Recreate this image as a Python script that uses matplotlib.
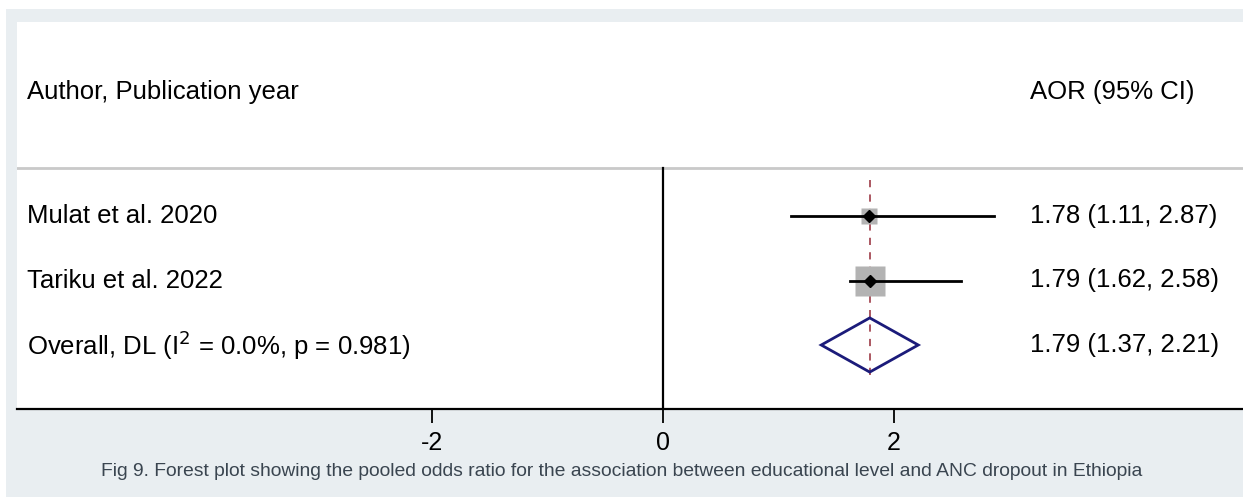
import matplotlib
matplotlib.use("Agg")
import matplotlib.pyplot as plt
from matplotlib.patches import Rectangle, Polygon

plt.rcParams.update({"font.family": ["Liberation Sans", "DejaVu Sans"]})

# study-level estimates (AOR, 95% CI) and weights
studies = ["Mulat et al. 2020", "Tariku et al. 2022"]
aor = [1.78, 1.79]
ci_lo = [1.11, 1.62]
ci_hi = [2.87, 2.58]
weights = [19.5, 80.5]

# pooled DerSimonian-Laird estimate
pooled_label = r"Overall, DL (I$^{2}$ = 0.0%, p = 0.981)"
pooled = 1.79
pooled_lo = 1.37
pooled_hi = 2.21

xticks = [-2, 0, 2]
caption = ("Fig 9. Forest plot showing the pooled odds ratio for the association "
           "between educational level and ANC dropout in Ethiopia")

W, H = 1243, 497
fig = plt.figure(figsize=(W / 100, H / 100), dpi=100, facecolor="white")
GREY = "#e9eef1"
fig.patches.append(Rectangle((6 / W, 0), 1, 1 - 9 / H, transform=fig.transFigure,
                             facecolor=GREY, edgecolor="none", zorder=-10))

# axes = white panel (pixel box 17..1243 x 22..409)
px_l, px_r, px_t, px_b = 17, 1243, 22, 409
ax = fig.add_axes([px_l / W, 1 - px_b / H, (px_r - px_l) / W, (px_b - px_t) / H])
ax.set_facecolor("white")
x0_px, unit = 663, 115.5
ax.set_xlim((px_l - x0_px) / unit, (px_r - x0_px) / unit)
row0_px, row_h = 216, 64.5
ax.set_ylim(1 + (px_b - row0_px) / row_h, 1 + (px_t - row0_px) / row_h)

def ypix(p):
    return 1 + (p - row0_px) / row_h

for s in ("top", "right", "left"):
    ax.spines[s].set_visible(False)
ax.spines["bottom"].set_linewidth(1.6)
ax.set_yticks([])
ax.set_xticks(xticks)
ax.set_xticklabels([str(t) for t in xticks], fontsize=18)
ax.tick_params(axis="x", length=10, width=1.3, pad=6)

fs = 18.5
tx = ax.get_xlim()[0] + 10 / unit
rx = (1030 - x0_px) / unit
ax.text(tx, ypix(92), "Author, Publication year", fontsize=fs, va="center")
ax.text(rx, ypix(92), "AOR (95% CI)", fontsize=fs, va="center")

# header separator and null line
ax.axhline(ypix(168), color="#c9c9c9", lw=2)
ax.plot([0, 0], [ypix(168), ax.get_ylim()[0]], color="black", lw=1.6)

# pooled reference line
ax.plot([pooled, pooled], [ypix(180), ypix(378)], color="#a54a55", lw=1.3,
        ls=(0, (4, 4)), zorder=1)

rows = list(range(1, len(studies) + 1))
for r, name, e, lo, hi, w in zip(rows, studies, aor, ci_lo, ci_hi, weights):
    ax.text(tx, r, name, fontsize=fs, va="center")
    ax.text(rx, r, f"{e:.2f} ({lo:.2f}, {hi:.2f})", fontsize=fs, va="center")
    ax.plot([lo, hi], [r, r], color="black", lw=2, zorder=3)
    ax.plot(e, r, marker="s", ms=2.45 * w ** 0.5, color="#b3b3b3", mec="none", zorder=2)
    ax.plot(e, r, marker="D", ms=6, color="black", zorder=4)

pr = len(studies) + 1
ax.text(tx, pr, pooled_label, fontsize=fs, va="center")
ax.text(rx, pr, f"{pooled:.2f} ({pooled_lo:.2f}, {pooled_hi:.2f})", fontsize=fs, va="center")
hh = 0.42
ax.add_patch(Polygon([[pooled_lo, pr], [pooled, pr - hh], [pooled_hi, pr], [pooled, pr + hh]],
                     closed=True, fill=False, edgecolor="#1b1b7a", lw=2, zorder=3))

fig.text(0.5, 1 - 472 / H, caption, ha="center", va="center", fontsize=13.9, color="#3a4550")

fig.savefig("out.png", dpi=100, facecolor="white")
